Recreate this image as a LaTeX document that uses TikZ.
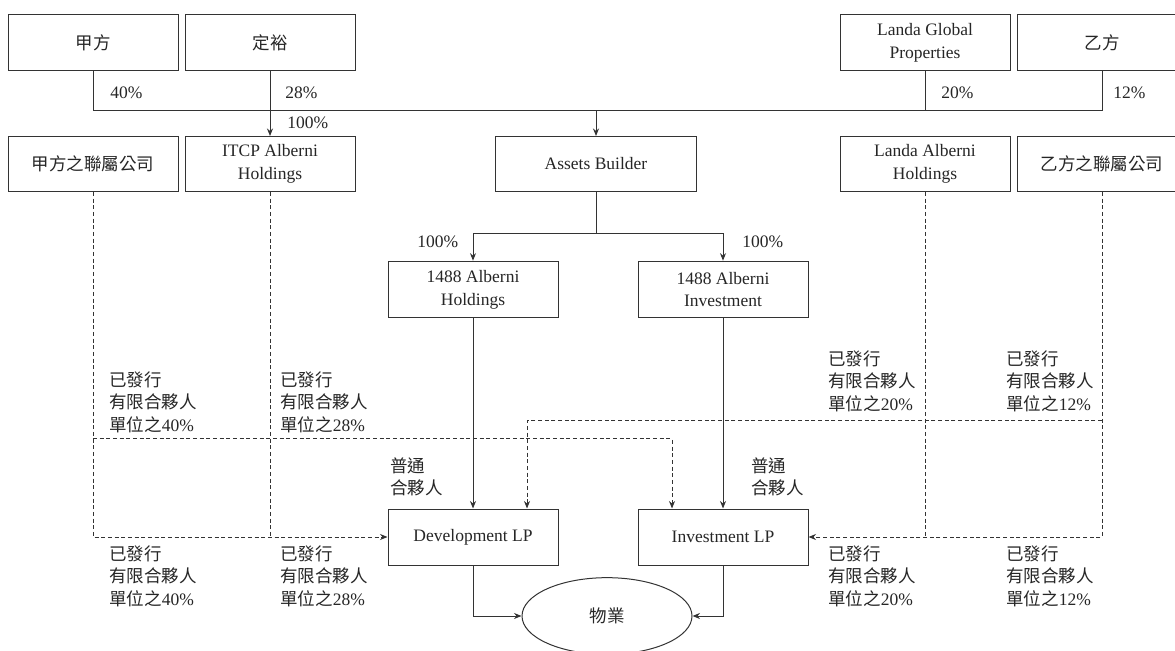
\documentclass[tikz,border=0pt]{standalone}
\usepackage{fontspec}
\setmainfont{Liberation Serif}
\newfontfamily\cjk{Noto Sans CJK TC}
\newcommand\cjkfont{\cjk\fontsize{10.5}{13.6}\selectfont}
\usetikzlibrary{arrows.meta,shapes.geometric,calc}

\begin{document}
\begin{tikzpicture}[x=0.6pt, y=-0.6pt, font=\fontsize{10.5}{13.6}\selectfont,
  box/.style={draw=black!80, line width=0.6pt, minimum width=102pt, minimum height=34pt, inner sep=1pt, align=center, text=black!85},
  conn/.style={draw=black!80, line width=0.6pt},
  arr/.style={conn, -{Stealth[length=4.5pt, width=3.6pt]}},
  dline/.style={conn, dash pattern=on 2.4pt off 1.6pt},
  darr/.style={dline, -{Stealth[length=4.5pt, width=3.6pt]}},
  pct/.style={anchor=west, inner sep=0pt, text=black!85},
  unit/.style={anchor=north west, align=left, inner sep=0pt, text=black!85, font=\cjkfont}]
  \path[use as bounding box] (0,0) rectangle (1175,651);
  \clip (0,0) rectangle (1175,651);

  % Shareholders
  \node[box, font=\cjkfont] (jiafang) at (93,42.5) {甲方};
  \node[box, font=\cjkfont] (dingyu) at (270,42.5) {定裕};
  \node[box] (landagp) at (925,42.5) {Landa Global\\Properties};
  \node[box, font=\cjkfont] (yifang) at (1102,42.5) {乙方};

  % Affiliates and holding companies
  \node[box, minimum height=33pt, font=\cjkfont] (jiafangaff) at (93,164) {甲方之聯屬公司};
  \node[box, minimum height=33pt] (itcp) at (270,164) {ITCP Alberni\\Holdings};
  \node[box, minimum height=33pt, minimum width=121pt] (assets) at (596,164) {Assets Builder};
  \node[box, minimum height=33pt] (landaah) at (925,164) {Landa Alberni\\Holdings};
  \node[box, minimum height=33pt, font=\cjkfont] (yifangaff) at (1102,164) {乙方之聯屬公司};

  \node[box] (h1488) at (473,289.5) {1488 Alberni\\Holdings};
  \node[box] (i1488) at (723,289.5) {1488 Alberni\\Investment};

  % Partnerships and property
  \node[box, minimum height=33.6pt] (devlp) at (473,537) {Development LP};
  \node[box, minimum height=33.6pt] (invlp) at (723,537) {Investment LP};
  \node[ellipse, draw=black!80, line width=0.6pt, minimum width=102pt, minimum height=46pt, inner sep=0pt, text=black!85, font=\cjkfont] (prop) at (607,616) {物業};

  % Shareholding lines
  \coordinate (bus) at (0,111);
  \draw[conn] (jiafang.south) |- (yifang.south |- bus) -- (yifang.south);
  \draw[conn] (landagp.south) -- (landagp.south |- bus);
  \draw[arr] (dingyu.south) -- (itcp.north);
  \draw[arr] (assets.north |- bus) -- (assets.north);

  \node[pct] (p40) at (110,93) {40\%};
  \node[pct] (p28) at (285,93) {28\%};
  \node[pct] (p100) at (287,123) {100\%};
  \node[pct] (p20) at (941,93) {20\%};
  \node[pct] (p12) at (1113,93) {12\%};
  \node[pct] (p100a) at (417,242) {100\%};
  \node[pct] (p100b) at (742,242) {100\%};

  \coordinate (split) at (0,234);
  \draw[conn] (assets.south) -- (assets.south |- split);
  \draw[arr] (assets.south |- split) -| (h1488.north);
  \draw[arr] (assets.south |- split) -| (i1488.north);
  \draw[arr] (h1488) -- (devlp);
  \draw[arr] (i1488) -- (invlp);
  \draw[arr] (devlp.south) |- (prop.west);
  \draw[arr] (invlp.south) |- (prop.east);

  % Limited partnership units
  \coordinate (midL) at (0,439);
  \coordinate (midR) at (0,421);
  \coordinate (devin) at ($(devlp.north)+(54,0)$);
  \coordinate (invin) at ($(invlp.north)+(-51,0)$);
  \draw[darr] (jiafangaff.south) |- (devlp.west);
  \draw[dline] (itcp.south) -- (itcp.south |- devlp.west);
  \draw[darr] (jiafangaff.south |- midL) -| (invin);
  \draw[darr] (yifangaff.south) |- (invlp.east);
  \draw[dline] (landaah.south) -- (landaah.south |- invlp.east);
  \draw[darr] (yifangaff.south |- midR) -| (devin);

  \foreach \x/\y/\v/\n in {109/371/40/ua, 280/371/28/ub, 828/350/20/uc, 1006/350/12/ud,
                           109/545/40/la, 280/545/28/lb, 828/545/20/lc, 1006/545/12/ld}{
    \node[unit] (\n) at (\x,\y) {已發行\\有限合夥人\\單位之{\rmfamily\v\%}};
  }
  \node[unit] (gpdev) at (390,457) {普通\\合夥人};
  \node[unit] (gpinv) at (751,457) {普通\\合夥人};
\end{tikzpicture}
\end{document}
